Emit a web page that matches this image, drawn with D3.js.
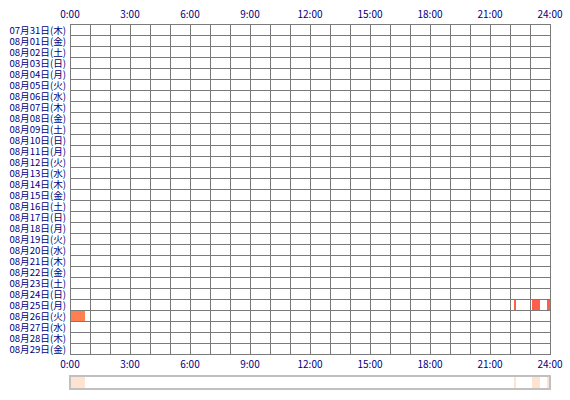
<!DOCTYPE html>
<html>
<head>
<meta charset="utf-8">
<script src="https://cdn.jsdelivr.net/npm/d3@7"></script>
<style>
  body { margin: 0; background: #fff; }
  text { font-family: "Noto Sans CJK JP", sans-serif; font-size: 10px; fill: #000080; }
  text.day { font-size: 9.6px; }
  line, rect { shape-rendering: crispEdges; }
</style>
</head>
<body>
<svg width="570" height="400"></svg>
<script>
// one row per day
var days = ['07月31日', '08月01日', '08月02日', '08月03日', '08月04日', '08月05日', '08月06日',
  '08月07日', '08月08日', '08月09日', '08月10日', '08月11日', '08月12日', '08月13日', '08月14日',
  '08月15日', '08月16日', '08月17日', '08月18日', '08月19日', '08月20日', '08月21日', '08月22日',
  '08月23日', '08月24日', '08月25日', '08月26日', '08月27日', '08月28日', '08月29日']
var weekdays = ['木', '金', '土', '日', '月', '火', '水']

var hourTicks = [0, 3, 6, 9, 12, 15, 18, 21, 24]

// activity: day label, start hour, end hour
var sessionDay = ['08月25日', '08月25日', '08月25日', '08月26日']
var sessionStart = [22.2, 23.08, 23.85, 0]
var sessionEnd = [22.3, 23.5, 24, 0.73]
var sessionColor = ['#ff5e4c', '#ff5e4c', '#ff5e4c', '#ff7f50']

var svg = d3.select('svg')
var gridLeft = 70
var gridRight = 550
var gridTop = 24
var rowH = 11
var gridBottom = gridTop + rowH * days.length

var x = d3.scaleLinear().domain([0, 24]).range([gridLeft, gridRight])
var y = d3.scaleBand().domain(days).range([gridTop, gridBottom])

var g = svg.append('g')

// bars
g.selectAll('rect.bar')
    .data(d3.range(sessionDay.length))
  .enter().append('rect')
    .attr('class', 'bar')
    .attr('x', function (i) { return x(sessionStart[i]) })
    .attr('y', function (i) { return y(sessionDay[i]) })
    .attr('width', function (i) { return x(sessionEnd[i]) - x(sessionStart[i]) })
    .attr('height', y.bandwidth())
    .style('fill', function (i) { return sessionColor[i] })

// grid lines
g.selectAll('line.v')
    .data(d3.range(25))
  .enter().append('line')
    .attr('x1', function (h) { return Math.round(x(h)) + 0.5 })
    .attr('x2', function (h) { return Math.round(x(h)) + 0.5 })
    .attr('y1', gridTop)
    .attr('y2', gridBottom + 1)
    .style('stroke', '#7a7a7a')

g.selectAll('line.h')
    .data(d3.range(days.length + 1))
  .enter().append('line')
    .attr('x1', gridLeft)
    .attr('x2', gridRight + 1)
    .attr('y1', function (i) { return gridTop + i * rowH + 0.5 })
    .attr('y2', function (i) { return gridTop + i * rowH + 0.5 })
    .style('stroke', '#7a7a7a')

// day labels
g.selectAll('text.day')
    .data(days)
  .enter().append('text')
    .attr('class', 'day')
    .attr('x', gridLeft - 4)
    .attr('y', function (d) { return y(d) + y.bandwidth() / 2 + 1 })
    .attr('dy', '.35em')
    .attr('text-anchor', 'end')
    .text(function (d, i) { return d + '(' + weekdays[i % 7] + ')' })

// hour labels top and bottom
var hourLabel = function (h) { return h + ':00' }
g.selectAll('text.top')
    .data(hourTicks)
  .enter().append('text')
    .attr('x', function (h) { return x(h) })
    .attr('y', 18)
    .attr('text-anchor', 'middle')
    .text(hourLabel)

g.selectAll('text.bottom')
    .data(hourTicks)
  .enter().append('text')
    .attr('x', function (h) { return x(h) })
    .attr('y', gridBottom + 14)
    .attr('text-anchor', 'middle')
    .text(hourLabel)

// summary strip
var stripTop = 377
var stripH = 11
g.selectAll('rect.sum')
    .data(d3.range(sessionDay.length))
  .enter().append('rect')
    .attr('x', function (i) { return x(sessionStart[i]) })
    .attr('y', stripTop)
    .attr('width', function (i) { return x(sessionEnd[i]) - x(sessionStart[i]) })
    .attr('height', stripH)
    .style('fill', '#ffe2d2')

g.append('rect')
    .attr('x', gridLeft)
    .attr('y', stripTop - 1)
    .attr('width', gridRight - gridLeft)
    .attr('height', stripH + 2)
    .style('fill', 'none')
    .style('stroke', '#c0c0c0')
    .style('stroke-width', 2)
</script>
</body>
</html>
